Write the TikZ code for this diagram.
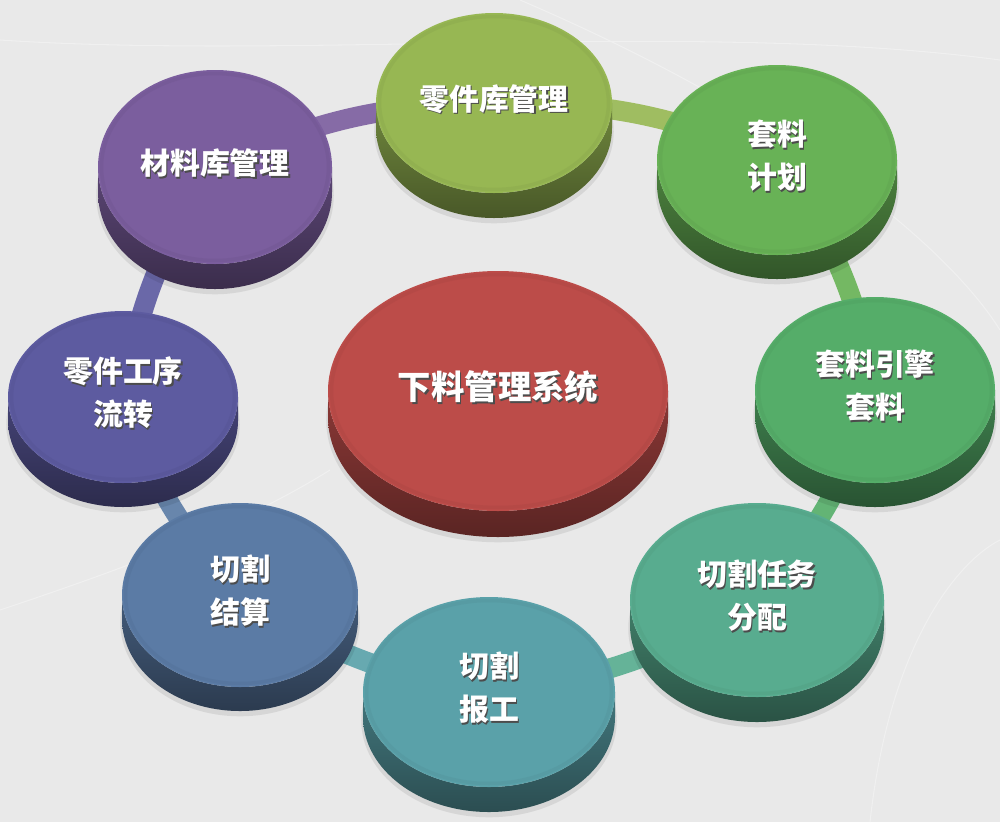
\documentclass[tikz,border=0pt]{standalone}
\usepackage{fontspec}
\newfontfamily\cjk{Noto Sans CJK SC}
\usetikzlibrary{calc}
\definecolor{bg}{HTML}{E9E9E9}
\definecolor{cMat}{HTML}{7B5E9E}
\definecolor{cPart}{HTML}{97B753}
\definecolor{cPlan}{HTML}{68B256}
\definecolor{cNest}{HTML}{55AD69}
\definecolor{cTask}{HTML}{58AC8F}
\definecolor{cRep}{HTML}{5AA1A9}
\definecolor{cSet}{HTML}{5B7BA5}
\definecolor{cFlow}{HTML}{5D5BA0}
\definecolor{cSys}{HTML}{BC4C49}
\tikzset{
	lbl/.style={font=\cjk\bfseries\fontsize{17}{24.5}\selectfont,text=white,align=center,inner sep=0pt},
	lblshadow/.style={lbl,text=black!70},
	big/.style={font=\cjk\bfseries\fontsize{19}{24}\selectfont},
	ring/.style={line width=.4cm,line cap=butt},
	faint/.style={white!30!bg,line width=.6pt},
}
% disc: name, x radius, y radius, side height (px), colour, text, label style
\newcommand\disc[7]{%
	\fill[black,opacity=.08]([yshift=-2pt]$(#1)+(0,#4)$)ellipse[x radius=#2*0.02cm+1pt,y radius=#3*0.02cm+1pt];
	\shade[top color=#5!74!black,bottom color=#5!48!black]
		([xshift=-#2*0.02cm]#1)--++(0,#4)arc[start angle=180,end angle=360,x radius=#2*0.02cm,y radius=#3*0.02cm]
		--++(0,-#4)arc[start angle=0,end angle=-180,x radius=#2*0.02cm,y radius=#3*0.02cm]--cycle;
	\fill[#5](#1)ellipse[x radius=#2*0.02cm,y radius=#3*0.02cm];
	\draw[#5!94!black,line width=2pt,opacity=.6](#1)ellipse[x radius=#2*0.02cm-2pt,y radius=#3*0.02cm-2pt];
	\node[lblshadow,#7](#1-s)at([shift={(1.6,-2.4)}]#1){#6};
	\node[lbl,#7](#1-t)at([shift={(0,-4)}]#1){#6};
}
\begin{document}
\begin{tikzpicture}[x=0.02cm,y=-0.02cm]
	\useasboundingbox(0,0)rectangle(1000,822);
	\fill[bg](0,0)rectangle(1000,822);
	% faint lines of the backdrop
	\draw[faint](0,40)..controls(300,60)and(700,20)..(1000,60);
	\draw[faint](520,0)..controls(800,120)and(950,250)..(1000,330);
	\draw[faint](870,822)..controls(890,640)and(960,560)..(1000,540);
	\draw[faint](0,610)..controls(150,560)and(250,520)..(330,470);
	\coordinate(cailiao)at(215,167);
	\coordinate(lingjian)at(494,103);
	\coordinate(jihua)at(777,160);
	\coordinate(yinqing)at(875,390);
	\coordinate(renwu)at(757,600);
	\coordinate(baogong)at(489,692);
	\coordinate(jiesuan)at(240,595);
	\coordinate(gongxu)at(123,397);
	\coordinate(xitong)at(498,391);
	% ring behind the discs
	\draw[ring,cMat!92!white](cailiao)to[bend left=12](lingjian);
	\draw[ring,cPart!92!white](lingjian)to[bend left=12](jihua);
	\draw[ring,cPlan!92!white](jihua)to[bend left=12](yinqing);
	\draw[ring,cNest!92!white](yinqing)to[bend left=12](renwu);
	\draw[ring,cTask!92!white](renwu)to[bend left=12](baogong);
	\draw[ring,cRep!92!white](baogong)to[bend left=12](jiesuan);
	\draw[ring,cSet!92!white](jiesuan)to[bend left=12](gongxu);
	\draw[ring,cFlow!92!white](gongxu)to[bend left=12](cailiao);
	\disc{cailiao}{117}{97}{25}{cMat}{材料库管理}{}
	\disc{lingjian}{118}{90}{25}{cPart}{零件库管理}{}
	\disc{jihua}{120}{95}{24}{cPlan}{套料\\计划}{}
	\disc{yinqing}{120}{93}{24}{cNest}{套料引擎\\套料}{}
	\disc{renwu}{127}{97}{25}{cTask}{切割任务\\分配}{}
	\disc{baogong}{126}{95}{25}{cRep}{切割\\报工}{}
	\disc{jiesuan}{118}{92}{24}{cSet}{切割\\结算}{}
	\disc{gongxu}{115}{86}{24}{cFlow}{零件工序\\流转}{}
	\disc{xitong}{170}{120}{26}{cSys}{下料管理系统}{big}
\end{tikzpicture}
\end{document}
